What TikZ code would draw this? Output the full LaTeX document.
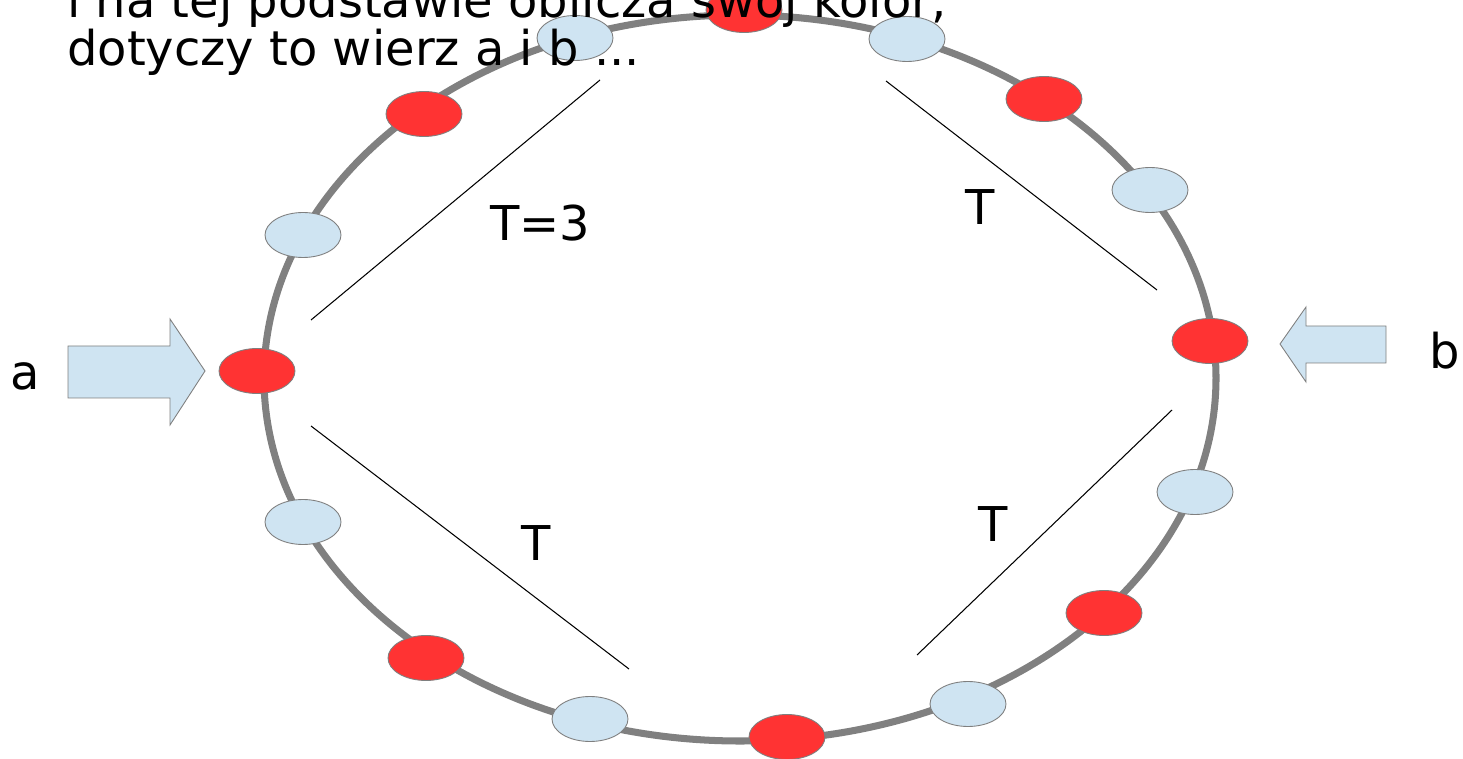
\documentclass[tikz,border=0pt]{standalone}
\usepackage{fontspec}
\setmainfont{DejaVu Sans}
\usetikzlibrary{shapes.geometric}
\definecolor{ringgray}{HTML}{808080}
\definecolor{dotred}{HTML}{FF3333}
\definecolor{dotblue}{HTML}{CFE4F2}
\definecolor{rimgray}{HTML}{7F7F7F}
\tikzset{
  reddot/.style={ellipse,draw=rimgray,fill=dotred,line width=0.5pt,
                 minimum width=1.52cm,minimum height=0.9cm,inner sep=0pt},
  bluedot/.style={ellipse,draw=rimgray,fill=dotblue,line width=0.5pt,
                  minimum width=1.52cm,minimum height=0.9cm,inner sep=0pt},
  bigtext/.style={font=\fontsize{27.3pt}{27.3pt}\selectfont,inner sep=0pt},
  thin/.style={line width=0.6pt,draw=black},
  inarrow/.style={draw=rimgray,fill=dotblue,line width=0.5pt}
}

\begin{document}
\begin{tikzpicture}[x=0.02cm,y=-0.02cm]
    \useasboundingbox (0,0) rectangle (1463,759);

    % ring
    \draw[ringgray,line width=4pt] (740,378) ellipse [x radius=476,y radius=363];

    % red vertices
    \node[reddot] (r1) at (744,10) {};
    \node[reddot] (r2) at (424,114) {};
    \node[reddot] (r3) at (257,371) {};
    \node[reddot] (r4) at (426,658) {};
    \node[reddot] (r5) at (787,737) {};
    \node[reddot] (r6) at (1104,613) {};
    \node[reddot] (r7) at (1210,341) {};
    \node[reddot] (r8) at (1044,99) {};

    % blue vertices
    \node[bluedot] (b1) at (575,38) {};
    \node[bluedot] (b2) at (303,235) {};
    \node[bluedot] (b3) at (303,522) {};
    \node[bluedot] (b4) at (590,719) {};
    \node[bluedot] (b5) at (968,704) {};
    \node[bluedot] (b6) at (1195,492) {};
    \node[bluedot] (b7) at (1150,190) {};
    \node[bluedot] (b8) at (907,39) {};

    % heading, cut by the page edge
    \node[bigtext,anchor=base west] (line1) at (67,18)
      {i na tej podstawie oblicza swój kolor,};
    \node[bigtext,anchor=base west] (line2) at (67,66)
      {dotyczy to wierz a i b ...};

    % distances
    \draw[thin] (311,320) -- (600,80);
    \draw[thin] (886,81) -- (1157,290);
    \draw[thin] (311,426) -- (629,669);
    \draw[thin] (1172,410) -- (917,655);
    \node[bigtext,anchor=base] (tul) at (540,241) {T=3};
    \node[bigtext,anchor=base] (tur) at (980,225) {T};
    \node[bigtext,anchor=base] (tll) at (536,561) {T};
    \node[bigtext,anchor=base] (tlr) at (993,541) {T};

    % inputs
    \draw[inarrow] (68,346) -- (170,346) -- (170,319) -- (205,371)
      -- (170,425) -- (170,398) -- (68,398) -- cycle;
    \draw[inarrow] (1386,326) -- (1306,326) -- (1306,307) -- (1280,344)
      -- (1306,382) -- (1306,363) -- (1386,363) -- cycle;
    \node[bigtext,anchor=base] (la) at (25,390) {a};
    \node[bigtext,anchor=base] (lb) at (1445,369) {b};
\end{tikzpicture}
\end{document}
